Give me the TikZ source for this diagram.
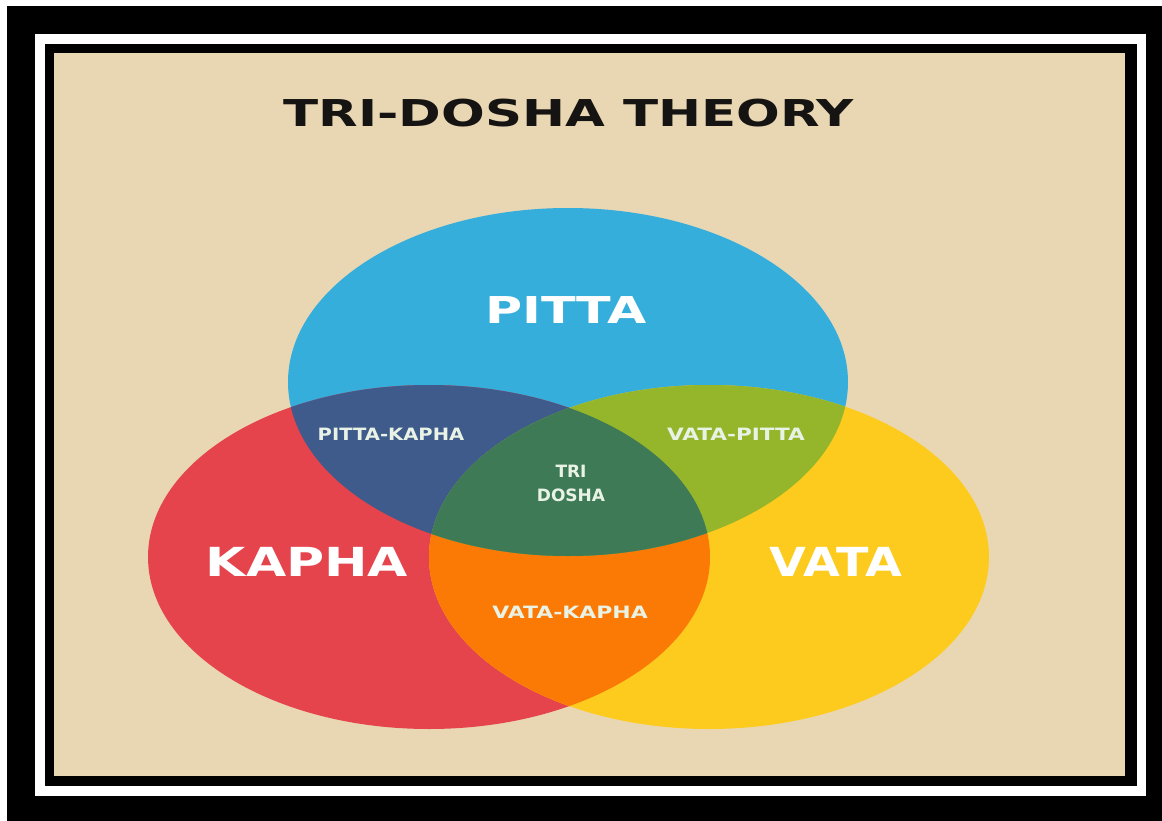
\documentclass[tikz,border=0pt]{standalone}
\usepackage{fontspec}
\newfontfamily\doshafont{DejaVu Sans}
\usetikzlibrary{positioning}

\definecolor{sand}{HTML}{E9D7B3}
\definecolor{pittablau}{HTML}{36AEDB}
\definecolor{kapharot}{HTML}{E5444C}
\definecolor{vatagelb}{HTML}{FDCB1E}
\definecolor{pkblau}{HTML}{3F5B8B}
\definecolor{vpgruen}{HTML}{95B62A}
\definecolor{vkorange}{HTML}{FB7A06}
\definecolor{trigruen}{HTML}{3F7A57}
\definecolor{schrift}{HTML}{E8F3E6}
\definecolor{titelschwarz}{HTML}{161412}

\tikzset{
	pittaform/.style={x radius=280, y radius=174},
	kaphaform/.style={x radius=281, y radius=172},
	vataform/.style={x radius=280, y radius=172},
	titeltext/.style={text=titelschwarz, inner sep=0pt,
		font=\doshafont\bfseries\fontsize{37}{40}\selectfont},
	grosstext/.style={text=white, inner sep=0pt,
		font=\doshafont\bfseries\fontsize{40}{44}\selectfont},
	kleintext/.style={text=schrift, inner sep=0pt,
		font=\doshafont\bfseries\fontsize{17}{20}\selectfont}
}

\begin{document}
\begin{tikzpicture}[x=1pt, y=-1pt]
	\useasboundingbox (0,0) rectangle (1162,821);
	% Rahmen
	\fill[white] (0,0) rectangle (1162,821);
	\fill[black] (7,6) rectangle (1162,821);
	\fill[white] (35,34) rectangle (1146,796);
	\fill[black] (45,44) rectangle (1137,786);
	\fill[sand] (54,53) rectangle (1125,776);

	% Mittelpunkte
	\coordinate (pitta) at (568,382);
	\coordinate (kapha) at (429,557);
	\coordinate (vata) at (709,557);

	% Kreise
	\fill[pittablau] (pitta) ellipse [pittaform];
	\fill[kapharot] (kapha) ellipse [kaphaform];
	\fill[vatagelb] (vata) ellipse [vataform];

	% Schnittmengen
	\begin{scope}
		\clip (kapha) ellipse [kaphaform];
		\fill[vkorange] (vata) ellipse [vataform];
	\end{scope}
	\begin{scope}
		\clip (pitta) ellipse [pittaform];
		\fill[pkblau] (kapha) ellipse [kaphaform];
		\fill[vpgruen] (vata) ellipse [vataform];
		\clip (kapha) ellipse [kaphaform];
		\fill[trigruen] (vata) ellipse [vataform];
	\end{scope}

	% Beschriftungen
	\node[titeltext] (titel) at (569,113.5) {\scalebox{1.39}[1]{TRI-DOSHA THEORY}};
	\node[grosstext, font=\doshafont\bfseries\fontsize{37}{40}\selectfont] (pittaname)
		at (566,310) {\scalebox{1.37}[1]{PITTA}};
	\node[grosstext] (kaphaname) at (307,562) {\scalebox{1.3}[1]{KAPHA}};
	\node[grosstext] (vataname) at (836,562) {\scalebox{1.19}[1]{VATA}};
	\node[kleintext] (pk) at (391,434) {\scalebox{1.15}[1]{PITTA-KAPHA}};
	\node[kleintext] (vp) at (736,434) {\scalebox{1.27}[1]{VATA-PITTA}};
	\node[kleintext] (vk) at (570,612) {\scalebox{1.29}[1]{VATA-KAPHA}};
	\node[kleintext] (tri) at (571,471.5) {TRI};
	\node[kleintext] (dosha) at (571,495.5) {DOSHA};
\end{tikzpicture}
\end{document}
